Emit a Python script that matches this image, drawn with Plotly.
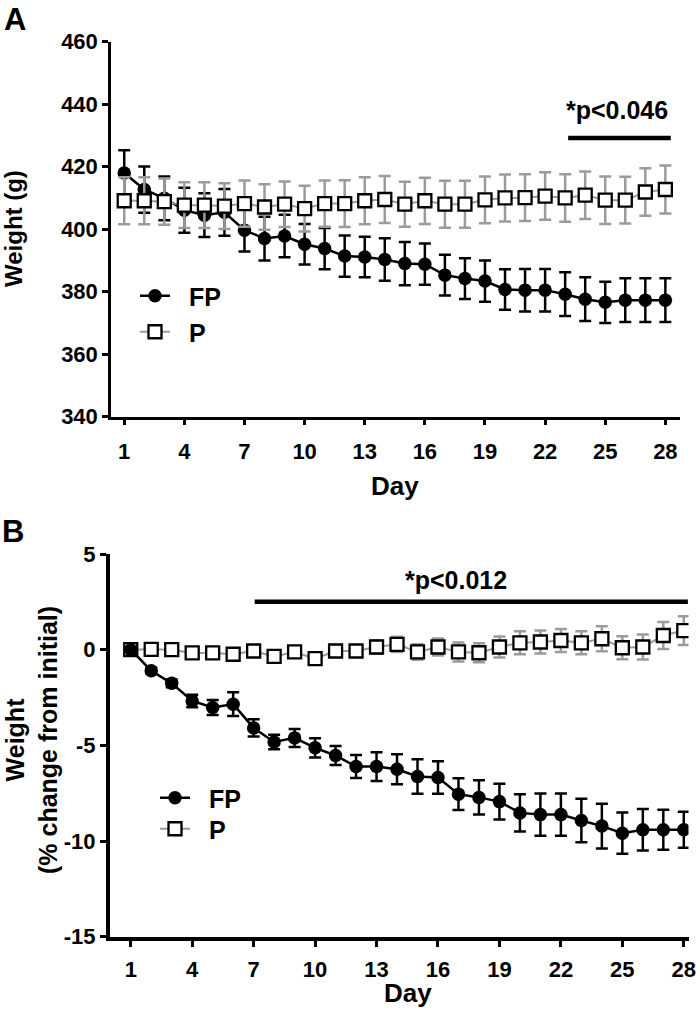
import plotly.graph_objects as go

# ---------------- data ----------------
days = list(range(1, 29))
x_ticks = [1, 4, 7, 10, 13, 16, 19, 22, 25, 28]

# Panel A: absolute weight (g)
a_fp = [418.0, 412.7, 409.9, 406.1, 404.5, 405.4, 399.7, 397.0, 397.8, 395.2,
        393.8, 391.4, 391.1, 390.3, 389.0, 388.8, 385.3, 384.2, 383.4, 380.7,
        380.5, 380.5, 379.2, 377.6, 376.6, 377.3, 377.3, 377.3]
a_fp_err = [7.3, 7.4, 7.0, 7.2, 7.0, 7.5, 6.8, 7.0, 6.8, 6.5,
            6.6, 6.6, 6.5, 6.8, 6.9, 6.6, 6.5, 6.5, 6.6, 6.5,
            6.8, 6.8, 7.0, 7.0, 6.6, 7.0, 7.0, 7.0]
a_p = [409.1, 409.1, 408.8, 407.7, 407.7, 407.4, 408.2, 407.1, 408.0, 406.6,
       408.2, 408.2, 409.1, 409.5, 408.0, 409.1, 408.0, 408.0, 409.4, 410.0,
       410.1, 410.6, 410.0, 410.9, 409.3, 409.3, 411.9, 412.7]
a_p_err = [7.5, 7.5, 7.4, 7.3, 7.3, 7.3, 7.4, 7.3, 7.3, 7.3,
           7.4, 7.5, 7.5, 7.5, 7.2, 7.4, 7.5, 7.5, 7.5, 7.5,
           7.5, 7.6, 7.6, 7.6, 7.6, 7.5, 7.6, 7.7]
a_yticks = [340, 360, 380, 400, 420, 440, 460]
a_sig_days = [23.15, 28.27]
a_sig_level = [429.2, 429.2]
a_sig_text = "*p<0.046"
a_sig_text_pos = [25.6, 438.3]

# Panel B: % change from initial
b_fp = [0.0, -1.10, -1.76, -2.68, -3.02, -2.85, -4.09, -4.82, -4.61, -5.13,
        -5.53, -6.11, -6.11, -6.25, -6.63, -6.68, -7.55, -7.72, -7.94, -8.53,
        -8.62, -8.62, -8.93, -9.22, -9.59, -9.41, -9.41, -9.41]
b_fp_err = [0.0, 0.15, 0.2, 0.33, 0.39, 0.62, 0.45, 0.38, 0.47, 0.5,
            0.5, 0.6, 0.75, 0.78, 0.9, 0.85, 0.83, 0.9, 0.93, 0.97,
            1.1, 1.1, 1.14, 1.17, 1.08, 1.09, 1.05, 0.94]
b_p = [0.0, 0.02, 0.0, -0.17, -0.17, -0.24, -0.07, -0.35, -0.12, -0.47,
       -0.07, -0.07, 0.14, 0.28, -0.12, 0.14, -0.12, -0.16, 0.14, 0.36,
       0.40, 0.48, 0.36, 0.57, 0.10, 0.14, 0.74, 1.0]
b_p_err = [0.0, 0.05, 0.08, 0.1, 0.12, 0.12, 0.15, 0.15, 0.15, 0.2,
           0.25, 0.3, 0.35, 0.4, 0.4, 0.45, 0.5, 0.5, 0.55, 0.6,
           0.6, 0.6, 0.6, 0.65, 0.6, 0.65, 0.7, 0.75]
b_yticks = [-15, -10, -5, 0, 5]
b_ytick_labels = ["-15", "-10", "-5", "0", "5"]
b_sig_days = [7.05, 28.2]
b_sig_level = [2.5, 2.5]
b_sig_text = "*p<0.012"
b_sig_text_pos = [16.9, 3.65]

series_names = ["FP", "P"]

# ---------------- styling ----------------
W, H = 700, 1010
FONT = "Liberation Sans, Arial, Helvetica, sans-serif"
BLACK = "#000000"
GRAY = "#9b9b9b"
PAD = "\u00a0\u00a0"   # small gap between legend symbol and label


def px_x(p):
    return p / W


def px_y(p):
    return 1 - p / H


fig = go.Figure()


def fp_trace(x, y, err, xa, ya, legend):
    return go.Scatter(
        x=x, y=y, mode="lines+markers", name=PAD + series_names[0],
        xaxis=xa, yaxis=ya, legend=legend,
        line=dict(color=BLACK, width=2.5),
        marker=dict(symbol="circle", size=13.5, color=BLACK),
        error_y=dict(type="data", array=err, visible=True, color=BLACK,
                     thickness=2.5, width=6),
    )


def p_trace(x, y, err, xa, ya, legend):
    return go.Scatter(
        x=x, y=y, mode="lines+markers", name=PAD + series_names[1],
        xaxis=xa, yaxis=ya, legend=legend,
        line=dict(color=GRAY, width=2),
        marker=dict(symbol="square", size=13, color="white",
                    line=dict(color=BLACK, width=2.3)),
        error_y=dict(type="data", array=err, visible=True, color=GRAY,
                     thickness=2.5, width=6),
    )


# Panel A: FP below, P on top
fig.add_trace(fp_trace(days, a_fp, a_fp_err, "x", "y", "legend"))
fig.add_trace(p_trace(days, a_p, a_p_err, "x", "y", "legend2"))
# Panel B: P below, FP on top
fig.add_trace(p_trace(days, b_p, b_p_err, "x2", "y2", "legend4"))
fig.add_trace(fp_trace(days, b_fp, b_fp_err, "x2", "y2", "legend3"))

# significance bars
fig.add_trace(go.Scatter(x=a_sig_days, y=a_sig_level, mode="lines",
                         line=dict(color=BLACK, width=4.5), showlegend=False,
                         xaxis="x", yaxis="y", hoverinfo="skip"))
fig.add_trace(go.Scatter(x=b_sig_days, y=b_sig_level, mode="lines",
                         line=dict(color=BLACK, width=4.5), showlegend=False,
                         xaxis="x2", yaxis="y2", hoverinfo="skip"))

tickfont = dict(family=FONT, size=22, color=BLACK, weight="bold")

common_axis = dict(showline=True, linecolor=BLACK, ticks="outside",
                   tickcolor=BLACK, showgrid=False, zeroline=False,
                   tickfont=tickfont, fixedrange=True, automargin=False)

legend_common = dict(font=dict(family=FONT, size=25, color=BLACK, weight="bold"),
                     bgcolor="rgba(0,0,0,0)", borderwidth=0,
                     xanchor="left", yanchor="middle", xref="paper", yref="paper")

fig.update_layout(
    width=W, height=H,
    margin=dict(l=0, r=0, t=0, b=0, autoexpand=False),
    paper_bgcolor="white", plot_bgcolor="white",
    font=dict(family=FONT, color=BLACK),
    xaxis=dict(domain=[px_x(111), px_x(680)], range=[0.34, 28.73],
               tickvals=x_ticks, anchor="y", linewidth=2.5, tickwidth=2.5,
               ticklen=6, ticklabelstandoff=7, **common_axis),
    yaxis=dict(domain=[px_y(416.7), px_y(41.7)], range=[340, 460],
               tickvals=a_yticks, anchor="x", linewidth=2.5, tickwidth=2.5,
               ticklen=6, **common_axis),
    xaxis2=dict(domain=[px_x(110), px_x(688.5)], range=[-0.013, 28.23],
                tickvals=x_ticks, anchor="y2", linewidth=4, tickwidth=3,
                ticklen=6, ticklabelstandoff=4, **common_axis),
    yaxis2=dict(domain=[px_y(936.7), px_y(554)], range=[-15, 5],
                tickvals=b_yticks, ticktext=b_ytick_labels, anchor="x2",
                linewidth=4, tickwidth=3, ticklen=6, **common_axis),
    legend=dict(x=px_x(135), y=px_y(296), **legend_common),
    legend2=dict(x=px_x(135), y=px_y(332), **legend_common),
    legend3=dict(x=px_x(155), y=px_y(798), **legend_common),
    legend4=dict(x=px_x(155), y=px_y(829), **legend_common),
    showlegend=True,
)

annotations = [
    # panel letters
    dict(text="<b>A</b>", x=px_x(15), y=1.0, yanchor="top", font=dict(size=31)),
    dict(text="<b>B</b>", x=px_x(13), y=px_y(531), font=dict(size=31)),
    # axis titles
    dict(text="<b>Weight (g)</b>", x=px_x(14), y=px_y(229), textangle=-90,
         font=dict(size=24)),
    dict(text="<b>Day</b>", x=px_x(395), y=px_y(486), font=dict(size=26)),
    dict(text="<b>Weight</b><br><b>(% change from initial)</b>", x=px_x(31),
         y=px_y(740), textangle=-90, font=dict(size=25)),
    dict(text="<b>Day</b>", x=px_x(408), y=px_y(993), font=dict(size=26)),
]
for a in annotations:
    a.setdefault("yanchor", "middle")
    a.update(xref="paper", yref="paper", showarrow=False, xanchor="center")
    a["font"].update(family=FONT, color=BLACK)

annotations += [
    dict(text="<b>" + a_sig_text + "</b>", x=a_sig_text_pos[0], y=a_sig_text_pos[1],
         xref="x", yref="y", showarrow=False, xanchor="center", yanchor="middle",
         font=dict(family=FONT, size=25, color=BLACK)),
    dict(text="<b>" + b_sig_text + "</b>", x=b_sig_text_pos[0], y=b_sig_text_pos[1],
         xref="x2", yref="y2", showarrow=False, xanchor="center", yanchor="middle",
         font=dict(family=FONT, size=25, color=BLACK)),
]
fig.update_layout(annotations=annotations)

# remove the default 8px page margin so the figure sits at the window's corner
fig.write_html("out.html",
               config={"displayModeBar": False},
               post_script="document.body.style.margin='0';"
                           "document.body.style.overflow='hidden';")
